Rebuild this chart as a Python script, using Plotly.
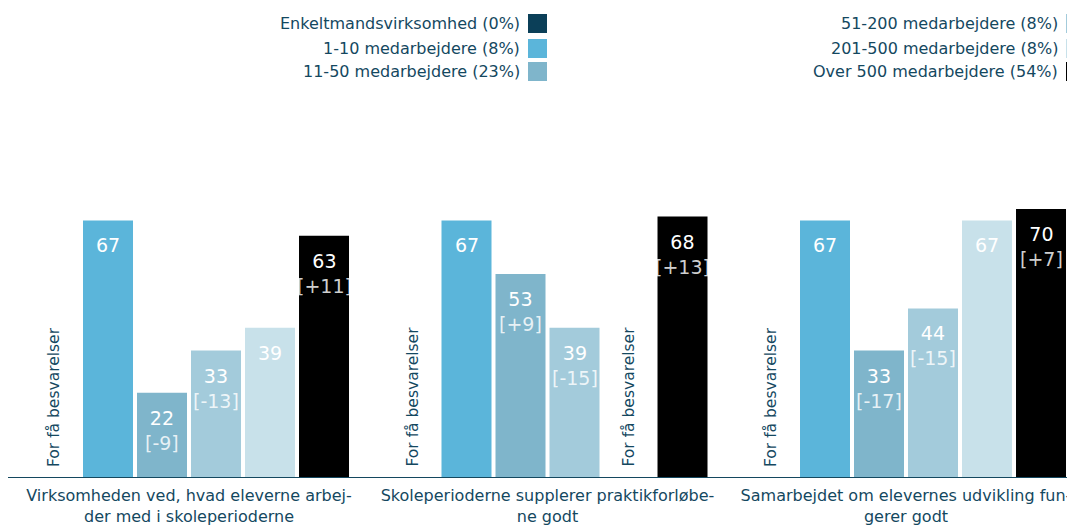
import plotly.graph_objects as go

# ---- data ----
categories = [
    "Virksomheden ved, hvad eleverne arbej-<br>der med i skoleperioderne",
    "Skoleperioderne supplerer praktikforløbe-<br>ne godt",
    "Samarbejdet om elevernes udvikling fun-<br>gerer godt",
]
series_names = [
    "Enkeltmandsvirksomhed (0%)",
    "1-10 medarbejdere (8%)",
    "11-50 medarbejdere (23%)",
    "51-200 medarbejdere (8%)",
    "201-500 medarbejdere (8%)",
    "Over 500 medarbejdere (54%)",
]
# None = "For få besvarelser"
enkelt = [None, None, None]
m1_10 = [67, 67, 67]
m11_50 = [22, 53, 33]
m51_200 = [33, 39, 44]
m201_500 = [39, None, 67]
over500 = [63, 68, 70]
values = [enkelt, m1_10, m11_50, m51_200, m201_500, over500]

diff_enkelt = [None, None, None]
diff_1_10 = [None, None, None]
diff_11_50 = ["-9", "+9", "-17"]
diff_51_200 = ["-13", "-15", "-15"]
diff_201_500 = [None, None, None]
diff_over500 = ["+11", "+13", "+7"]
diffs = [diff_enkelt, diff_1_10, diff_11_50, diff_51_200, diff_201_500, diff_over500]

colors = ["#0b3f58", "#5bb5da", "#7fb5cb", "#a3cbdb", "#c8e1ea", "#000000"]
missing_text = "For få besvarelser"

# ---- style ----
FONT = "DejaVu Sans"
TXT = "#14485f"
OFF = 8                      # page body margin
W, H = 1075 - OFF, 526 - OFF
ML, MR, MT, MB = 0, 0, 94 - OFF, 49
BARGAP = 0.0962
BARGROUPGAP = 0.074
N = len(series_names)
x = list(range(len(categories)))

fig = go.Figure()
for i, (name, vals) in enumerate(zip(series_names, values)):
    fig.add_trace(go.Bar(
        x=x, y=[v if v is not None else 0 for v in vals], name=name,
        marker=dict(color=colors[i], line=dict(width=0)),
        showlegend=False, hoverinfo="skip",
    ))

annotations = []
slot = (1 - BARGAP) / N
for i in range(N):
    for g in x:
        xc = g - (1 - BARGAP) / 2 + (i + 0.5) * slot
        v = values[i][g]
        if v is None:
            annotations.append(dict(
                x=xc, y=0, xref="x", yref="y", text=missing_text, textangle=-90,
                showarrow=False, xanchor="center", yanchor="bottom", yshift=8,
                font=dict(family=FONT, size=15.5, color=TXT)))
        else:
            t = str(v)
            d = diffs[i][g]
            if d is not None:
                t += "<br><span style='color:rgba(255,255,255,0.82)'>[" + d + "]</span>"
            annotations.append(dict(
                x=xc, y=v, xref="x", yref="y", text=t, showarrow=False,
                xanchor="center", yanchor="top", yshift=-12, align="center",
                font=dict(family=FONT, size=19, color="#ffffff")))

# custom legend (text right, swatch on the right), positions in page pixels
plot_w = W - ML - MR
plot_h = H - MT - MB
row_y = [23, 48, 72]
col_right = [520, 1058]
def px_x(p):
    return (p - OFF - ML) / plot_w
def px_y(p):
    return (H - MB - (p - OFF)) / plot_h

for i, name in enumerate(series_names):
    col, row = divmod(i, 3)
    annotations.append(dict(
        x=px_x(col_right[col]), y=px_y(row_y[row]), xref="paper", yref="paper",
        text=name, showarrow=False, xanchor="right", yanchor="middle", xshift=2,
        font=dict(family=FONT, size=16, color=TXT)))
    # swatch
    annotations.append(dict(
        x=px_x(col_right[col] + 8), y=px_y(row_y[row]), xref="paper", yref="paper",
        text=" ", showarrow=False, xanchor="left", yanchor="middle",
        width=17, height=17, bgcolor=colors[i], borderpad=1, borderwidth=0,
        font=dict(family=FONT, size=10, color=colors[i])))

fig.update_layout(
    width=W, height=H,
    margin=dict(l=ML, r=MR, t=MT, b=MB, pad=0),
    paper_bgcolor="white", plot_bgcolor="white",
    barmode="group", bargap=BARGAP, bargroupgap=BARGROUPGAP,
    annotations=annotations,
    font=dict(family=FONT, color=TXT),
    xaxis=dict(
        range=[-0.5049, 2.4714],
        tickvals=x, ticktext=categories, showgrid=False, zeroline=False,
        showline=True, linecolor=TXT, linewidth=1,
        ticks="outside", ticklen=4, tickcolor="rgba(0,0,0,0)",
        tickfont=dict(family=FONT, size=16, color=TXT),
    ),
    yaxis=dict(range=[0, 100], visible=False, showgrid=False, zeroline=False),
)

fig.write_html("out.html")
